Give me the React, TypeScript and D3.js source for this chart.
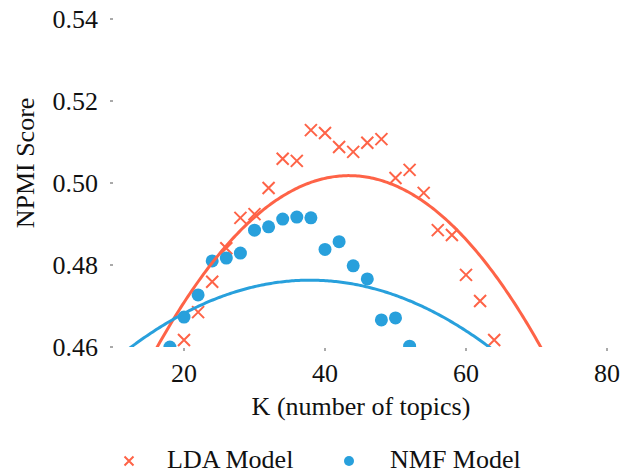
import React from 'react';
import * as d3 from 'd3';

// number of topics tried
const topicsK = [18, 20, 22, 24, 26, 28, 30, 32, 34, 36, 38, 40, 42, 44, 46, 48, 50, 52, 54, 56, 58, 60, 62, 64];
// NPMI scores (null = below the visible range)
const ldaScores = [null, 0.4617, 0.4685, 0.4759, 0.4841, 0.4915, 0.4924, 0.4988, 0.5059, 0.5054, 0.5129, 0.5122,
  0.5088, 0.5076, 0.5098, 0.5107, 0.5012, 0.5032, 0.4976, 0.4885, 0.4873, 0.4776, 0.4712, 0.4617];
const nmfScores = [0.4600, 0.4673, 0.4727, 0.4810, 0.4817, 0.4829, 0.4885, 0.4893, 0.4912, 0.4917, 0.4915, 0.4838,
  0.4857, 0.4798, 0.4766, 0.4666, 0.4671, 0.4602, null, null, null, null, null, null];
// order-2 trend lines: [peak K, peak score, curvature]
const ldaTrend = [43.4, 0.5018, -0.0000565];
const nmfTrend = [37.9, 0.4763, -0.0000253];

const xTicks = [20, 40, 60, 80];
const yTicks = [0.46, 0.48, 0.50, 0.52, 0.54];

const LDA_COLOR = '#fe6347';
const NMF_COLOR = '#28a0dc';
const textStyle = { fontFamily: "'Liberation Serif', serif", fontSize: 26, fill: '#111' };

export default function App() {
  const width = 633;
  const height = 475;
  const left = 114;
  const right = 625;
  const bottom = 347;

  const x = d3.scaleLinear().domain([20, 80]).range([184, 607]);
  const y = d3.scaleLinear().domain([0.46, 0.54]).range([bottom, 19]);
  const kMin = x.invert(left);
  const kMax = x.invert(right);

  const trend = (t: number[]) =>
    d3.range(kMin, kMax + 0.25, 0.25).map(k => [k, t[1] + t[2] * (k - t[0]) ** 2] as [number, number]);
  const line = d3.line<[number, number]>().x(d => x(d[0])).y(d => y(d[1]));

  const lda = topicsK.map((k, i) => ({ k, v: ldaScores[i] })).filter(d => d.v != null);
  const nmf = topicsK.map((k, i) => ({ k, v: nmfScores[i] })).filter(d => d.v != null);

  const cross = (cx: number, cy: number, r: number, w: number, key?: any) => (
    <path key={key} d={`M${cx - r},${cy - r}L${cx + r},${cy + r}M${cx - r},${cy + r}L${cx + r},${cy - r}`}
      stroke={LDA_COLOR} strokeWidth={w} fill="none" />
  );

  return (
    <svg width={width} height={height} style={{ position: 'absolute', left: 0, top: 0, background: '#fff' }}>
      <defs>
        <clipPath id="plot">
          <rect x={left} y={0} width={right - left} height={bottom} />
        </clipPath>
      </defs>

      {/* y axis */}
      {yTicks.map(t => (
        <g key={t}>
          <line x1={110} x2={113} y1={y(t)} y2={y(t)} stroke="#555" strokeWidth={1} />
          <text x={98} y={y(t)} dy="0.33em" textAnchor="end" style={textStyle}>
            {d3.format('.2f')(t)}
          </text>
        </g>
      ))}
      <text transform={`translate(34,163) rotate(-90)`} textAnchor="middle" style={textStyle}>
        NPMI Score
      </text>

      {/* x axis */}
      {xTicks.map(t => (
        <g key={t}>
          <line x1={x(t)} x2={x(t)} y1={348} y2={351} stroke="#555" strokeWidth={1} />
          <text x={x(t)} y={382} textAnchor="middle" style={textStyle}>{t}</text>
        </g>
      ))}
      <text x={361} y={415} textAnchor="middle" style={textStyle}>
        K (number of topics)
      </text>

      <g clipPath="url(#plot)">
        {lda.map((d, i) => cross(x(d.k), y(d.v as number), 6, 2, 'l' + i))}
        {nmf.map((d, i) => (
          <circle key={'n' + i} cx={x(d.k)} cy={y(d.v as number)} r={6.5} fill={NMF_COLOR} />
        ))}
        <path d={line(trend(ldaTrend)) || ''} fill="none" stroke={LDA_COLOR} strokeWidth={3} />
        <path d={line(trend(nmfTrend)) || ''} fill="none" stroke={NMF_COLOR} strokeWidth={3} />
      </g>

      {/* legend */}
      {cross(129, 461, 4.5, 2)}
      <text x={167} y={468} style={textStyle}>LDA Model</text>
      <circle cx={349} cy={461} r={5} fill={NMF_COLOR} />
      <text x={390} y={468} style={textStyle}>NMF Model</text>
    </svg>
  );
}
